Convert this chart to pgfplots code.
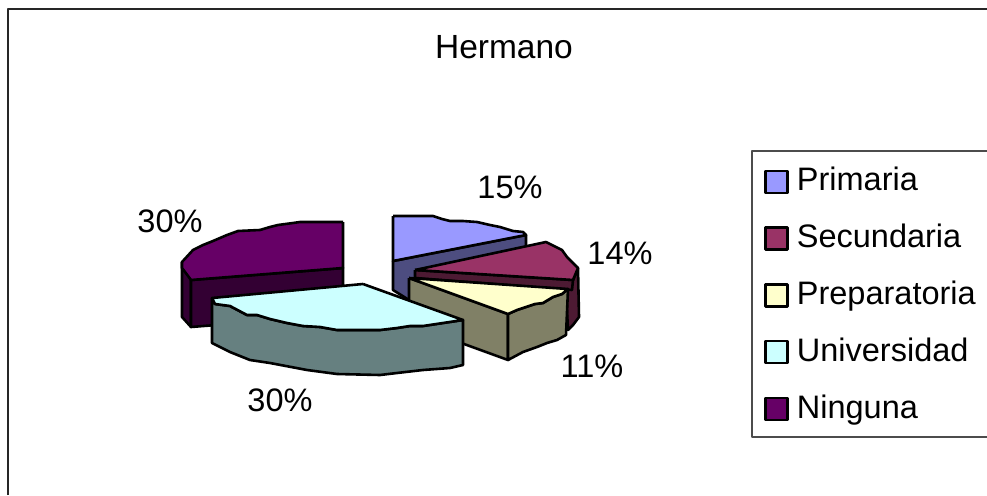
\documentclass[border=0pt]{standalone}
\usepackage{pgfplots}
\pgfplotsset{compat=1.18}
\usepackage{fontspec}
\setmainfont{Liberation Sans}
\definecolor{cP}{HTML}{9999FF}\definecolor{cPs}{HTML}{4D4D80}
\definecolor{cS}{HTML}{993366}\definecolor{cSs}{HTML}{4D1A33}
\definecolor{cR}{HTML}{FFFFCC}\definecolor{cRs}{HTML}{808066}
\definecolor{cU}{HTML}{CCFFFF}\definecolor{cUs}{HTML}{668080}
\definecolor{cN}{HTML}{660066}\definecolor{cNs}{HTML}{330033}
\newcommand{\chfont}{\fontsize{32.5}{36}\selectfont}
\begin{document}
\begin{tikzpicture}
\useasboundingbox (0,0) rectangle (987pt,495pt);
\begin{axis}[
  at={(0,0)},anchor=south west,
  width=987pt,height=495pt,scale only axis,
  xmin=0,xmax=987,ymin=0,ymax=495,y dir=reverse,
  hide axis,clip=false,
  legend cell align=left,
  legend style={draw=none,fill=none,at={(764/987,1-165/495)},anchor=north west,
    font=\chfont,row sep=27.8pt,inner sep=0pt,
    /tikz/every even column/.append style={column sep=0pt}},
  legend image code/.code={\draw[#1,line width=2.4pt] (0pt,-13pt) rectangle (22pt,9pt);\path[draw=none,fill=none] (0pt,0pt)--(29.5pt,0pt);},
  every axis plot/.append style={line width=2.6pt,draw=black,line join=round},
]
% frame and legend frame
\addplot[forget plot,line width=1.6pt,draw=black!85] coordinates {(8,495) (8,9) (987,9)};
\addplot[forget plot,line width=1.1pt,draw=black!70] coordinates {(987,151) (752,151) (752,437) (987,437)};
% Ninguna sides
\addplot[forget plot,fill=cNs] coordinates {(182,262) (182,317) (191,327) (191,280) (182,262)} ;
\addplot[forget plot,fill=cNs] coordinates {(191,280) (343,268) (343,315) (191,327) (191,280)};
% Primaria side
\addplot[forget plot,fill=cPs] coordinates {(393,261) (526,235) (526,252) (415,280) (409,300) (393,290) (393,261)};
\addplot[fill=cP] coordinates {(393,216) (433,216) (442,219) (450,221) (463,221) (477,222) (490,225) (500,227) (513,231) (523,232) (526,235) (393,261) (393,216)};
\addlegendentry{Primaria}
% Secundaria sides
\addplot[forget plot,fill=cSs] coordinates {(566,292) (573,280) (578,268) (579,317) (573,325) (568,330) (566,292)};
\addplot[forget plot,fill=cSs] coordinates {(415,270) (573,280) (572,290) (415,278) (415,270)};
\addplot[fill=cS] coordinates {(415,270) (546,242) (562,250) (567,257) (578,268) (573,280) (415,270)};
\addlegendentry{Secundaria}
% Preparatoria sides
\addplot[forget plot,fill=cRs] coordinates {(409,278) (508,314) (508,360) (409,324) (409,278)};
\addplot[forget plot,fill=cRs] coordinates {(508,314) (517,310) (523,308) (535,304) (543,303) (553,297) (562,294) (568,289) (566,335) (557,340) (547,343) (537,347) (523,352) (508,360) (508,314)};
\addplot[fill=cR] coordinates {(409,278) (568,289) (562,294) (553,297) (543,303) (535,304) (523,308) (517,310) (508,314) (409,278)};
\addlegendentry{Preparatoria}
% Universidad side
\addplot[forget plot,fill=cUs] coordinates {(212,298) (215,304) (230,306) (247,315) (257,315) (270,319) (287,323) (303,326) (320,327) (337,330) (380,330) (397,328) (410,326) (423,326) (443,323) (463,320) (463,365) (450,368) (423,370) (397,373) (380,375) (337,374) (307,370) (270,363) (250,360) (230,352) (212,343) (212,298)};
\addplot[fill=cU] coordinates {(363,284) (212,298) (215,304) (230,306) (247,315) (257,315) (270,319) (287,323) (303,326) (320,327) (337,330) (380,330) (397,328) (410,326) (423,326) (443,323) (463,320) (363,284)};
\addlegendentry{Universidad}
% Ninguna top
\addplot[fill=cN] coordinates {(343,222) (300,222) (293,223) (278,225) (270,227) (260,230) (238,231) (227,235) (213,241) (203,245) (193,250) (182,262) (182,268) (191,280) (343,268) (343,222)};
\addlegendentry{Ninguna}
\node[font=\fontsize{33.5}{36}\selectfont] at (axis cs:504,47) {Hermano};
\node[font=\chfont] at (axis cs:510,187) {15\%};
\node[font=\chfont] at (axis cs:620,253) {14\%};
\node[font=\chfont] at (axis cs:592,366) {11\%};
\node[font=\chfont] at (axis cs:280,400) {30\%};
\node[font=\chfont] at (axis cs:170,221) {30\%};
\end{axis}
\end{tikzpicture}
\end{document}
